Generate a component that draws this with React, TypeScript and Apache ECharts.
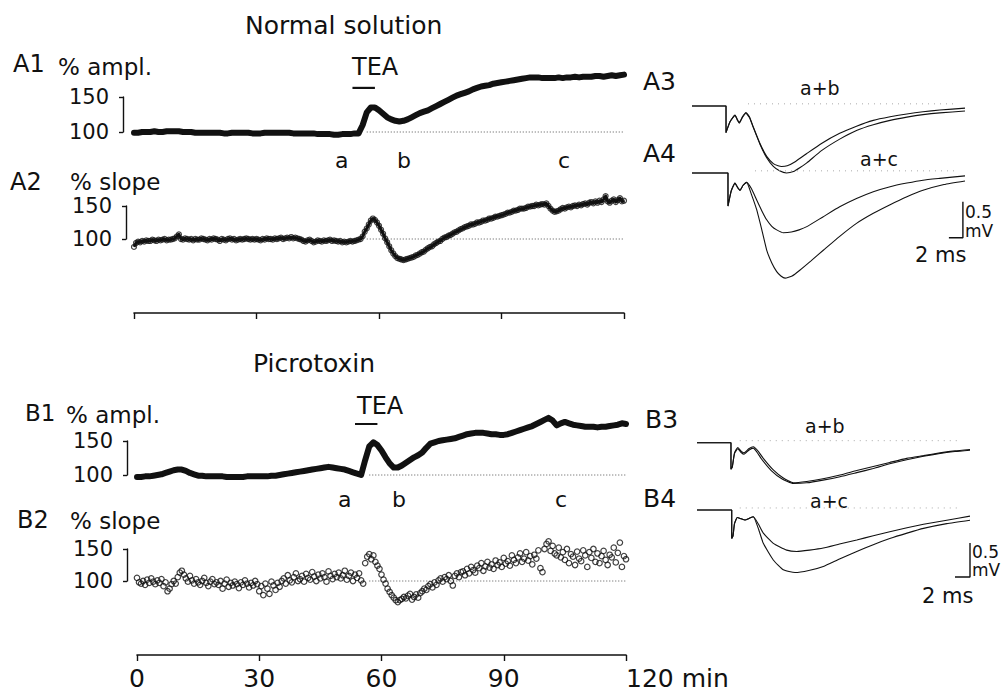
import React, { useEffect, useRef } from "react";
import * as echarts from "echarts";

// ---------------- data ----------------
const TIME_TICKS = [0, 30, 60, 90, 120]; // min
const TEA_START = 53.5; // min
const TEA_END = 59; // min
const BASELINE_START = 57; // min, start of dotted 100 % reference line

// % amplitude, one value per minute (0..120)
const A1_AMPL = [
  99, 99, 100, 100, 100, 101, 100, 100, 101, 101, 101,
  101, 100, 100, 100, 99, 99, 99, 99, 99, 99,
  99, 98, 98, 99, 99, 99, 99, 99, 98, 98,
  98, 99, 99, 99, 99, 99, 99, 99, 98, 98,
  98, 98, 98, 98, 97, 97, 97, 97, 96, 96,
  97, 97, 97, 98, 98, 110, 128, 135, 135, 131,
  126, 121, 118, 116, 115, 116, 118, 121, 124, 127,
  129, 131, 134, 137, 140, 143, 146, 149, 152, 154,
  156, 158, 161, 163, 165, 166, 167, 169, 170, 171,
  172, 173, 174, 175, 176, 177, 178, 178, 178, 177,
  177, 177, 177, 178, 177, 178, 178, 179, 178, 179,
  179, 179, 180, 180, 179, 180, 181, 180, 181, 182,
];

// % slope, one value per half minute (0..120)
const A2_SLOPE = [
  88, 94, 96, 95, 97, 96, 98, 97, 97, 99, 98, 97, 99, 98, 99, 100, 98, 99, 99, 100,
  101, 104, 107, 100, 99, 101, 100, 99, 100, 98, 100, 99, 99, 101, 100, 99, 98, 100, 99, 101,
  100, 99, 97, 100, 99, 98, 100, 101, 99, 100, 98, 99, 100, 99, 100, 101, 100, 99, 100, 99,
  100, 99, 98, 100, 99, 101, 100, 100, 99, 101, 100, 101, 102, 100, 101, 102, 101, 103, 101, 102,
  101, 100, 99, 97, 96, 98, 99, 97, 95, 96, 98, 97, 96, 98, 97, 98, 99, 97, 98, 97,
  96, 97, 95, 96, 95, 96, 97, 96, 97, 98, 99, 100,
  104, 111, 116, 122, 128, 131, 129, 125,
  120, 114, 108, 101, 95, 89, 83, 78, 74, 71, 70, 69, 68, 69, 70, 71, 72, 73, 75, 76,
  78, 80, 81, 84, 86, 88, 89, 92, 94, 96, 97, 100, 102, 103, 105, 106, 108, 110, 111, 113,
  115, 116, 118, 119, 120, 122, 122, 123, 125, 125, 126, 128, 128, 129, 131, 131, 132, 134, 134, 135,
  136, 137, 138, 140, 140, 141, 143, 143, 144, 146, 146, 146, 147, 149, 149, 150, 150, 152, 151, 152,
  153, 152, 154, 150, 146, 143, 141, 142, 143, 145, 147, 146, 148, 149, 148, 150, 151, 150, 152, 151,
  153, 154, 152, 155, 156, 154, 157, 155, 158, 156, 160, 165, 157, 155, 158, 160, 156, 159, 162, 157,
  158,
];

const B1_AMPL = [
  97, 97, 98, 98, 99, 100, 101, 103, 105, 107, 108,
  108, 106, 103, 101, 99, 99, 98, 98, 98, 98,
  98, 97, 97, 97, 97, 97, 98, 98, 98, 98,
  98, 98, 99, 99, 100, 101, 102, 103, 104, 105,
  106, 107, 108, 109, 110, 111, 112, 111, 110, 109,
  108, 106, 104, 102, 100, 122, 142, 148, 144, 136,
  126, 117, 111, 111, 114, 118, 122, 126, 129, 133,
  140, 146, 148, 150, 151, 152, 153, 154, 156, 158,
  160, 161, 162, 162, 162, 161, 160, 160, 159, 159,
  160, 162, 164, 166, 168, 170, 172, 175, 178, 181,
  184, 180, 173, 176, 178, 176, 174, 173, 172, 171,
  171, 171, 170, 171, 171, 172, 173, 174, 176, 175,
];

const B2_SLOPE = [
  105, 98, 96, 100, 94, 102, 97, 104, 99, 95, 101, 97, 103, 92, 98, 84, 88, 95, 100, 96,
  106, 113, 116, 110, 104, 99, 108, 101, 96, 103, 98, 94, 100, 105, 97, 92, 99, 103, 95, 98,
  94, 100, 88, 96, 102, 91, 97, 93, 99, 95, 89, 98, 94, 101, 96, 90, 97, 93, 100, 95,
  84, 92, 78, 96, 88, 80, 99, 93, 86, 97, 91, 100, 104, 96, 109, 101, 98, 106, 112, 100,
  103, 108, 99, 111, 105, 102, 114, 107, 100, 110, 104, 112, 106, 99, 115, 108, 103, 111, 106, 113,
  104, 109, 116, 102, 108, 113, 100, 110, 105, 112, 101, 96,
  128, 138, 142, 134, 140, 130, 124, 119,
  110, 102, 96, 88, 83, 78, 74, 70, 67, 70, 72, 75, 73, 77, 80, 71, 75, 79, 74, 81,
  84, 88, 86, 92, 95, 90, 98, 94, 101, 104, 99, 106, 103, 109, 100, 93, 108, 112, 106, 114,
  115, 109, 119, 112, 122, 117, 113, 124, 120, 128, 116, 123, 130, 121, 126, 119, 132, 125, 129, 122,
  136, 127, 131, 124, 140, 133, 128, 137, 143, 130, 135, 145, 132, 139, 126, 141, 135, 148, 120, 114,
  150, 158, 162, 147, 155, 143, 140, 152, 137, 145, 133, 150, 128, 142, 138, 125, 146, 135, 131, 148,
  140, 122, 145, 136, 150, 130, 143, 128, 139, 147, 133, 125, 141, 137, 152, 129, 144, 160, 122, 139,
  134,
];

// field potential traces: [ms, mV]
const A3_TRACE_A = [
  [0, 0], [4.86, 0], [4.86, -0.37], [5.43, -0.22], [6.14, -0.125], [6.5, -0.19], [6.76, -0.23],
  [7.2, -0.15], [7.71, -0.09], [8.2, -0.15], [8.76, -0.29], [9.71, -0.52], [10.67, -0.7],
  [11.62, -0.8], [12.3, -0.83], [12.8, -0.84], [13.6, -0.83], [14.8, -0.77], [16.4, -0.66],
  [18.5, -0.52], [21.1, -0.38], [23.5, -0.28], [25.9, -0.2], [28.3, -0.15], [30.7, -0.11],
  [33, -0.08], [35.4, -0.056], [39, -0.03],
];
const A3_TRACE_B = [
  [0, 0], [4.86, 0], [4.86, -0.37], [5.43, -0.22], [6.14, -0.13], [6.5, -0.2], [6.76, -0.24],
  [7.2, -0.16], [7.71, -0.1], [8.2, -0.16], [8.76, -0.3], [9.71, -0.53], [10.67, -0.72],
  [11.62, -0.84], [12.5, -0.9], [13.5, -0.93], [14.5, -0.91], [15.5, -0.85], [16.4, -0.79],
  [18.5, -0.62], [21.1, -0.46], [23.5, -0.34], [25.9, -0.26], [28.3, -0.2], [30.7, -0.155],
  [33, -0.12], [35.4, -0.095], [39, -0.07],
];
const A4_TRACE_A = [
  [0, 0], [5.14, 0], [5.14, -0.46], [5.6, -0.25], [6.14, -0.14], [6.5, -0.2], [6.86, -0.24],
  [7.3, -0.17], [7.81, -0.13], [8.5, -0.22], [9.24, -0.375], [10, -0.53], [10.67, -0.65],
  [11.4, -0.74], [12.1, -0.79], [13.05, -0.83], [14.2, -0.82], [15.3, -0.79], [16.4, -0.745],
  [18.7, -0.61], [21.1, -0.47], [23.5, -0.355], [25.9, -0.26], [28.3, -0.19], [30.7, -0.14],
  [33, -0.1], [35.4, -0.075], [39, -0.04],
];
const A4_TRACE_C = [
  [0, 0], [5.14, 0], [5.14, -0.46], [5.6, -0.25], [6.14, -0.14], [6.5, -0.2], [6.86, -0.24],
  [7.3, -0.17], [7.81, -0.13], [8.5, -0.3], [9.24, -0.51], [10, -0.8], [10.67, -1.07],
  [11.4, -1.25], [12.1, -1.37], [12.7, -1.43], [13.3, -1.46], [14.3, -1.43], [15.4, -1.35],
  [17, -1.22], [18.8, -1.07], [21.1, -0.88], [23.5, -0.7], [25.9, -0.56], [28.3, -0.44],
  [30.7, -0.33], [33, -0.24], [36, -0.16], [39, -0.11],
];
const B3_TRACE_A = [
  [0, 0], [4.53, 0], [4.53, -0.39], [4.7, -0.36], [5, -0.15], [5.43, -0.07], [5.85, -0.12],
  [6.27, -0.15], [6.9, -0.09], [7.51, -0.06], [8.2, -0.13], [8.84, -0.23], [10.17, -0.4],
  [11.51, -0.52], [12.84, -0.59], [14.63, -0.57], [16.8, -0.53], [19.07, -0.475], [21.3, -0.41],
  [23.5, -0.35], [25.7, -0.29], [27.96, -0.23], [30.2, -0.19], [32.4, -0.15], [34.4, -0.12],
  [36.4, -0.1],
];
const B3_TRACE_B = [
  [0, 0], [4.53, 0], [4.53, -0.39], [4.7, -0.36], [5, -0.16], [5.43, -0.09], [5.85, -0.14],
  [6.27, -0.17], [6.9, -0.11], [7.51, -0.08], [8, -0.14], [8.6, -0.24], [9.9, -0.41],
  [11.3, -0.53], [12.84, -0.6], [14.63, -0.59], [16.8, -0.55], [19.07, -0.5], [21.3, -0.44],
  [23.5, -0.38], [25.7, -0.31], [27.96, -0.25], [30.2, -0.2], [32.4, -0.16], [34.4, -0.13],
  [36.4, -0.11],
];
const B4_TRACE_A = [
  [0, 0], [4.63, 0], [4.63, -0.42], [4.8, -0.38], [5, -0.2], [5.37, -0.11], [5.9, -0.13],
  [6.4, -0.147], [7, -0.12], [7.51, -0.1], [8.2, -0.21], [8.84, -0.34], [10.17, -0.49],
  [11.96, -0.59], [13.3, -0.61], [15, -0.59], [16.84, -0.56], [19, -0.5], [21.3, -0.44],
  [23.5, -0.38], [25.7, -0.32], [28, -0.26], [30.2, -0.21], [33.3, -0.15], [36.4, -0.09],
];
const B4_TRACE_C = [
  [0, 0], [4.63, 0], [4.63, -0.42], [4.8, -0.38], [5, -0.2], [5.37, -0.11], [5.9, -0.13],
  [6.4, -0.147], [7, -0.12], [7.51, -0.1], [8.2, -0.28], [8.84, -0.49], [10.17, -0.735],
  [11.5, -0.88], [13.07, -0.92], [14.9, -0.89], [16.84, -0.83], [19, -0.72], [21.3, -0.61],
  [23.5, -0.51], [25.7, -0.42], [28, -0.34], [30.2, -0.27], [33.3, -0.2], [36.4, -0.15],
];

const SCALE_MS = 2;
const SCALE_MV = 0.5;

// ---------------- layout ----------------
const FONT = '"DejaVu Sans", sans-serif';
const INK = "#111";

const A_X = { left: 134, width: 490 };
const B_X = { left: 137, width: 489 };

const PANELS = [
  { data: A1_AMPL, step: 1, kind: "line", x: A_X, y100: 132, s: 0.7, ymin: 80, ymax: 200, bracketX: 123, tea: 163 },
  { data: A2_SLOPE, step: 0.5, kind: "band", x: A_X, y100: 239, s: 0.66, ymin: 50, ymax: 180, bracketX: 126 },
  { data: B1_AMPL, step: 1, kind: "line", x: B_X, y100: 475, s: 0.68, ymin: 80, ymax: 200, bracketX: 127, tea: 175 },
  { data: B2_SLOPE, step: 0.5, kind: "scatter", x: B_X, y100: 581, s: 0.64, ymin: 50, ymax: 180, bracketX: 127 },
];

const TRACE_PANELS = [
  { traces: [A3_TRACE_A, A3_TRACE_B], x0: 692, pxMs: 7, tmax: 39.2, yBase: 106, pxMv: 72, vmin: -1.0, vmax: 0.2, dot: [8, 38] },
  { traces: [A4_TRACE_A, A4_TRACE_C], x0: 692, pxMs: 7, tmax: 39.2, yBase: 173, pxMv: 72, vmin: -1.6, vmax: 0.2, dot: [9, 38], bar: [38.7, -0.9] },
  { traces: [B3_TRACE_A, B3_TRACE_B], x0: 697, pxMs: 7.5, tmax: 37, yBase: 442.7, pxMv: 68, vmin: -0.8, vmax: 0.2, dot: [5.7, 35] },
  { traces: [B4_TRACE_A, B4_TRACE_C], x0: 697, pxMs: 7.5, tmax: 37, yBase: 510, pxMv: 68, vmin: -1.2, vmax: 0.2, dot: [5.7, 35], bar: [36.4, -0.985] },
];

function txt(text: string, x: number, y: number, size: number, align = "left", lineHeight?: number) {
  return {
    type: "text",
    x,
    y,
    silent: true,
    style: {
      text, fontSize: size, fontFamily: FONT, fill: INK, align, verticalAlign: "middle",
      ...(lineHeight ? { lineHeight } : {}),
    },
  };
}

function buildOption() {
  const grid: any[] = [];
  const xAxis: any[] = [];
  const yAxis: any[] = [];
  const series: any[] = [];
  const hidden = { show: false };

  // time-course panels
  PANELS.forEach((p) => {
    const gi = grid.length;
    grid.push({
      left: p.x.left,
      width: p.x.width,
      top: p.y100 - (p.ymax - 100) * p.s,
      height: (p.ymax - p.ymin) * p.s,
      outerBoundsMode: "none",
    });
    xAxis.push({ gridIndex: gi, type: "value", min: 0, max: 120, ...hidden });
    yAxis.push({ gridIndex: gi, type: "value", min: p.ymin, max: p.ymax, ...hidden });
    const pts = p.data.map((v, i) => [i * p.step, v]);
    if (p.kind === "line") {
      series.push({
        type: "line", xAxisIndex: gi, yAxisIndex: gi, data: pts, symbol: "none",
        lineStyle: { color: INK, width: 6, join: "round", cap: "round" }, z: 3,
      });
    } else {
      if (p.kind === "band") {
        series.push({
          type: "line", xAxisIndex: gi, yAxisIndex: gi, data: pts, symbol: "none",
          lineStyle: { color: INK, width: 3, join: "round" }, z: 3,
        });
      }
      series.push({
        type: "scatter", xAxisIndex: gi, yAxisIndex: gi, data: pts, symbol: "circle",
        symbolSize: p.kind === "band" ? 5 : 5.5,
        itemStyle: { color: "rgba(255,255,255,0)", borderColor: INK, borderWidth: 1.2 }, z: 4,
      });
    }
    series.push({
      type: "line", xAxisIndex: gi, yAxisIndex: gi, data: [[BASELINE_START, 100], [120, 100]], symbol: "none",
      lineStyle: { color: "#555", width: 1, type: [1, 2] }, z: 2,
    });
    if (p.tea) {
      series.push({
        type: "line", xAxisIndex: gi, yAxisIndex: gi, data: [[TEA_START, p.tea], [TEA_END, p.tea]], symbol: "none",
        lineStyle: { color: INK, width: 2.2 },
      });
    }
  });

  // scale brackets (100-150 %)
  PANELS.forEach((p) => {
    const gi = grid.length;
    grid.push({ left: p.bracketX, width: 1, top: p.y100 - 50 * p.s, height: 50 * p.s, outerBoundsMode: "none" });
    xAxis.push({ gridIndex: gi, type: "value", min: 0, max: 1, ...hidden });
    yAxis.push({
      gridIndex: gi, type: "value", min: 100, max: 150, interval: 50, position: "left",
      axisLine: { show: true, lineStyle: { color: INK, width: 1.4 } },
      axisTick: { show: true, length: 4, lineStyle: { color: INK, width: 1.4 } },
      axisLabel: { show: true, margin: 14, fontSize: 21, color: INK, fontFamily: FONT },
      splitLine: { show: false },
    });
  });

  // time axes
  [
    { x: A_X, axisY: 313, labels: false },
    { x: B_X, axisY: 655, labels: true },
  ].forEach((a) => {
    const gi = grid.length;
    grid.push({ left: a.x.left, width: a.x.width, top: a.axisY - 12, height: 12, outerBoundsMode: "none" });
    xAxis.push({
      gridIndex: gi, type: "value", min: TIME_TICKS[0], max: TIME_TICKS[TIME_TICKS.length - 1], interval: 30,
      position: "bottom",
      axisLine: { show: true, lineStyle: { color: INK, width: 1.6 } },
      axisTick: { show: true, length: 6, lineStyle: { color: INK, width: 1.4 } },
      axisLabel: {
        show: a.labels, margin: 11, fontSize: 25, color: INK, fontFamily: FONT,
        showMinLabel: true, showMaxLabel: true, alignMaxLabel: "left",
        formatter: (v: number) => (v === 120 ? "120 min" : String(v)),
      },
      splitLine: { show: false },
    });
    yAxis.push({ gridIndex: gi, type: "value", ...hidden });
  });

  // field potential traces
  TRACE_PANELS.forEach((t) => {
    const gi = grid.length;
    grid.push({
      left: t.x0, width: t.tmax * t.pxMs,
      top: t.yBase - t.vmax * t.pxMv, height: (t.vmax - t.vmin) * t.pxMv,
      outerBoundsMode: "none",
    });
    xAxis.push({ gridIndex: gi, type: "value", min: 0, max: t.tmax, ...hidden });
    yAxis.push({ gridIndex: gi, type: "value", min: t.vmin, max: t.vmax, ...hidden });
    series.push({
      type: "line", xAxisIndex: gi, yAxisIndex: gi, data: [[t.dot[0], 0.03], [t.dot[1], 0.03]], symbol: "none",
      lineStyle: { color: "#aaa", width: 1, type: [1, 5] },
    });
    t.traces.forEach((tr) => {
      series.push({
        type: "line", xAxisIndex: gi, yAxisIndex: gi, data: tr, symbol: "none", smooth: 0.15,
        lineStyle: { color: INK, width: 1.1 },
      });
    });
    if (t.bar) {
      const [cx, cy] = t.bar;
      series.push({
        type: "line", xAxisIndex: gi, yAxisIndex: gi,
        data: [[cx - SCALE_MS, cy], [cx, cy], [cx, cy + SCALE_MV]], symbol: "none",
        lineStyle: { color: INK, width: 1.4 },
      });
    }
  });

  const graphic = [
    txt("Normal solution", 245, 25, 25),
    txt("Picrotoxin", 253, 363, 25),
    txt("A1", 13, 64, 24),
    txt("% ampl.", 58, 67, 23),
    txt("A2", 10, 182, 24),
    txt("% slope", 70, 182, 23),
    txt("B1", 25, 413, 23),
    txt("% ampl.", 66, 415, 23),
    txt("B2", 17, 520, 24),
    txt("% slope", 70, 521, 23),
    txt("TEA", 352, 67, 24),
    txt("TEA", 357, 406, 24),
    txt("a", 335, 160, 22),
    txt("b", 397, 160, 22),
    txt("c", 558, 160, 22),
    txt("a", 338, 499, 22),
    txt("b", 392, 499, 22),
    txt("c", 555, 499, 22),
    txt("A3", 643, 81, 25),
    txt("A4", 643, 153, 25),
    txt("B3", 645, 419, 25),
    txt("B4", 643, 498, 25),
    txt("a+b", 800, 88, 19),
    txt("a+c", 860, 159, 19),
    txt("a+b", 805, 426, 19),
    txt("a+c", 810, 501, 19),
    txt("0.5\nmV", 965, 221, 17, "left", 19),
    txt("2 ms", 915, 255, 21),
    txt("0.5\nmV", 972, 561, 17, "left", 18),
    txt("2 ms", 922, 596, 21),
  ];

  return { animation: false, backgroundColor: "#fff", grid, xAxis, yAxis, series, graphic };
}

export default function App() {
  const ref = useRef<HTMLDivElement>(null);
  useEffect(() => {
    document.body.style.margin = "0";
    if (!ref.current) return;
    const chart = echarts.init(ref.current, null, { renderer: "svg" });
    chart.setOption(buildOption());
    return () => chart.dispose();
  }, []);
  return <div ref={ref} style={{ width: 1006, height: 692, background: "#fff" }} />;
}
